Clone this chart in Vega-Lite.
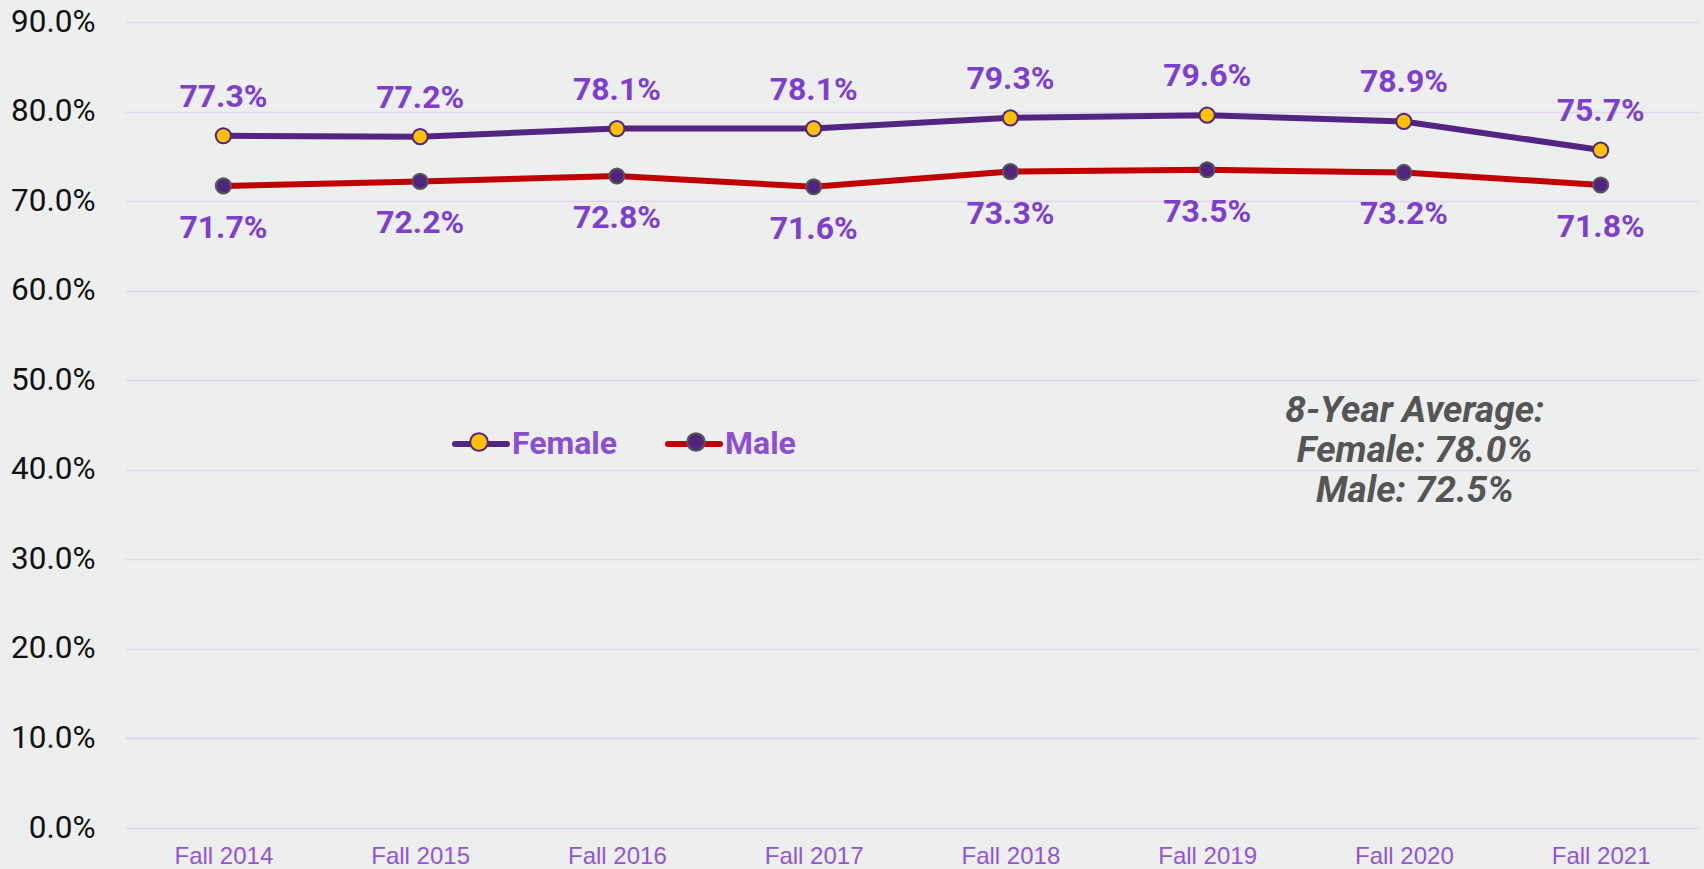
{
  "$schema": "https://vega.github.io/schema/vega-lite/v6.json",
  "width": 1574,
  "height": 806,
  "autosize": {"type": "none"},
  "padding": {"left": 125, "top": 22, "right": 5, "bottom": 41},
  "background": "#EDEEEE",
  "config": {"view": {"stroke": null}},
  "datasets": {
    "rates": [
      {"term": "Fall 2014", "group": "Female", "rate": 0.773},
      {"term": "Fall 2015", "group": "Female", "rate": 0.772},
      {"term": "Fall 2016", "group": "Female", "rate": 0.781},
      {"term": "Fall 2017", "group": "Female", "rate": 0.781},
      {"term": "Fall 2018", "group": "Female", "rate": 0.793},
      {"term": "Fall 2019", "group": "Female", "rate": 0.796},
      {"term": "Fall 2020", "group": "Female", "rate": 0.789},
      {"term": "Fall 2021", "group": "Female", "rate": 0.757},
      {"term": "Fall 2014", "group": "Male", "rate": 0.717},
      {"term": "Fall 2015", "group": "Male", "rate": 0.722},
      {"term": "Fall 2016", "group": "Male", "rate": 0.728},
      {"term": "Fall 2017", "group": "Male", "rate": 0.716},
      {"term": "Fall 2018", "group": "Male", "rate": 0.733},
      {"term": "Fall 2019", "group": "Male", "rate": 0.735},
      {"term": "Fall 2020", "group": "Male", "rate": 0.732},
      {"term": "Fall 2021", "group": "Male", "rate": 0.718}
    ],
    "note": [
      {"term": "Fall 2020", "rate": 0.466, "label": "8-Year Average:\nFemale: 78.0%\nMale: 72.5%"}
    ]
  },
  "data": {"name": "rates"},
  "encoding": {
    "x": {
      "field": "term",
      "type": "ordinal",
      "scale": {"type": "point", "padding": 0.5},
      "axis": {
        "title": null,
        "domain": false,
        "ticks": false,
        "grid": false,
        "labelAngle": 0,
        "labelFont": "Liberation Sans",
        "labelFontSize": 24,
        "labelColor": "#9256D2",
        "labelPadding": 16
      }
    },
    "y": {
      "field": "rate",
      "type": "quantitative",
      "scale": {"domain": [0, 0.9], "nice": false},
      "axis": {
        "title": null,
        "values": [0, 0.1, 0.2, 0.3, 0.4, 0.5, 0.6, 0.7, 0.8, 0.9],
        "format": ".1%",
        "domain": false,
        "ticks": false,
        "grid": true,
        "gridColor": "#E3D5F0",
        "gridWidth": 1.5,
        "labelFont": "Roboto",
        "labelFontSize": 31.5,
        "labelColor": "#111111",
        "labelPadding": 30
      }
    }
  },
  "layer": [
    {
      "mark": {"type": "line", "strokeWidth": 6},
      "encoding": {
        "color": {
          "field": "group",
          "type": "nominal",
          "scale": {"domain": ["Female", "Male"], "range": ["#522582", "#C00000"]},
          "legend": {
            "orient": "none",
            "legendX": 327,
            "legendY": 393,
            "direction": "horizontal",
            "title": null,
            "padding": 0,
            "symbolType": "stroke",
            "symbolSize": 2704,
            "symbolStrokeWidth": 6,
            "labelFont": "Roboto",
            "labelFontWeight": "bold",
            "labelFontSize": 32,
            "labelColor": "#8B4FD0",
            "labelOffset": 2,
            "columnPadding": 38,
            "encode": {"symbols": {"update": {"strokeCap": {"value": "round"}}}}
          }
        }
      }
    },
    {
      "mark": {"type": "point", "filled": true, "size": 230, "strokeWidth": 2, "opacity": 1},
      "encoding": {
        "fill": {
          "field": "group",
          "type": "nominal",
          "scale": {"range": ["#FFC000", "#512480"]},
          "legend": {
            "orient": "none",
            "legendX": 327,
            "legendY": 393,
            "direction": "horizontal",
            "title": null,
            "padding": 0,
            "symbolType": "M-0.34,0A0.34,0.34,0,1,1,0.34,0A0.34,0.34,0,1,1,-0.34,0Z",
            "symbolSize": 2704,
            "symbolStrokeWidth": 2,
            "symbolOpacity": 1,
            "labelFont": "Roboto",
            "labelFontWeight": "bold",
            "labelFontSize": 32,
            "labelExpr": "''",
            "labelOffset": 5,
            "columnPadding": 158
          }
        },
        "stroke": {
          "field": "group",
          "type": "nominal",
          "scale": {"range": ["#522582", "#595959"]},
          "legend": {
            "orient": "none",
            "legendX": 327,
            "legendY": 393,
            "direction": "horizontal",
            "title": null,
            "padding": 0,
            "symbolType": "M-0.34,0A0.34,0.34,0,1,1,0.34,0A0.34,0.34,0,1,1,-0.34,0Z",
            "symbolSize": 2704,
            "symbolStrokeWidth": 2,
            "symbolOpacity": 1,
            "labelFont": "Roboto",
            "labelFontWeight": "bold",
            "labelFontSize": 32,
            "labelExpr": "''",
            "labelOffset": 5,
            "columnPadding": 158
          }
        }
      }
    },
    {
      "transform": [{"filter": "datum.group === 'Female'"}],
      "mark": {"type": "text", "dy": -39, "font": "Roboto", "fontWeight": "bold", "fontSize": 32, "color": "#7E3FCB", "baseline": "middle", "align": "center"},
      "encoding": {"text": {"field": "rate", "type": "quantitative", "format": ".1%"}}
    },
    {
      "transform": [{"filter": "datum.group === 'Male'"}],
      "mark": {"type": "text", "dy": 42, "font": "Roboto", "fontWeight": "bold", "fontSize": 32, "color": "#7E3FCB", "baseline": "middle", "align": "center"},
      "encoding": {"text": {"field": "rate", "type": "quantitative", "format": ".1%"}}
    },
    {
      "data": {"name": "note"},
      "mark": {"type": "text", "dx": 11, "font": "Roboto", "fontWeight": "bold", "fontStyle": "italic", "fontSize": 37, "color": "#555555", "baseline": "middle", "align": "center", "lineBreak": "\n", "lineHeight": 40},
      "encoding": {"text": {"field": "label", "type": "nominal"}}
    }
  ]
}
